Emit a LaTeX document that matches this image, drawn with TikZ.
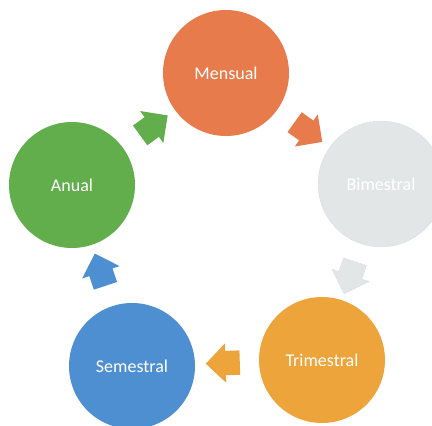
\documentclass[tikz,border=0pt]{standalone}
\usepackage{fontspec}
\setmainfont{Carlito}
\usepackage{tikz}
\usetikzlibrary{shapes.arrows}

\definecolor{mensualc}{HTML}{E87B4C}
\definecolor{bimestralc}{HTML}{E3E6E7}
\definecolor{trimestralc}{HTML}{EDA43A}
\definecolor{semestralc}{HTML}{4E8FD2}
\definecolor{anualc}{HTML}{62AE4C}

\begin{document}
\begin{tikzpicture}[x=1pt,y=-1pt,
	etapa/.style={circle, minimum size=126pt, inner sep=0pt, text=white,
		font=\fontsize{18}{20}\selectfont},
	flecha/.style={single arrow, minimum height=34pt, minimum width=39pt,
		single arrow head extend=7.5pt, inner xsep=0pt, inner ysep=12pt,
		sloped, allow upside down}]
		\useasboundingbox (0,0) rectangle (432,426);
		\clip (0,0) rectangle (432,426);

		%% Stages of the cycle
		\node[etapa, fill=mensualc] (mensual) at (226,73) {Mensual};
		\node[etapa, fill=bimestralc, draw=gray!45, densely dotted] (bimestral) at (381,184) {Bimestral};
		\node[etapa, fill=trimestralc] (trimestral) at (322,360) {Trimestral};
		\node[etapa, fill=semestralc] (semestral) at (132,366) {Semestral};
		\node[etapa, fill=anualc] (anual) at (72,185) {Anual};

		% Block arrows between the stages
		\path[allow upside down] (mensual) -- node[flecha, fill=mensualc] (f1) {} (bimestral);
		\path[allow upside down] (bimestral) -- node[flecha, fill=bimestralc, draw=gray!45, densely dotted] (f2) {} (trimestral);
		\path[allow upside down] (trimestral) -- node[pos=0.47, flecha, fill=trimestralc] (f3) {} (semestral);
		\path[allow upside down] (semestral) -- node[flecha, fill=semestralc] (f4) {} (anual);
		\path[allow upside down] (anual) -- node[flecha, fill=anualc] (f5) {} (mensual);
	\end{tikzpicture}
\end{document}
